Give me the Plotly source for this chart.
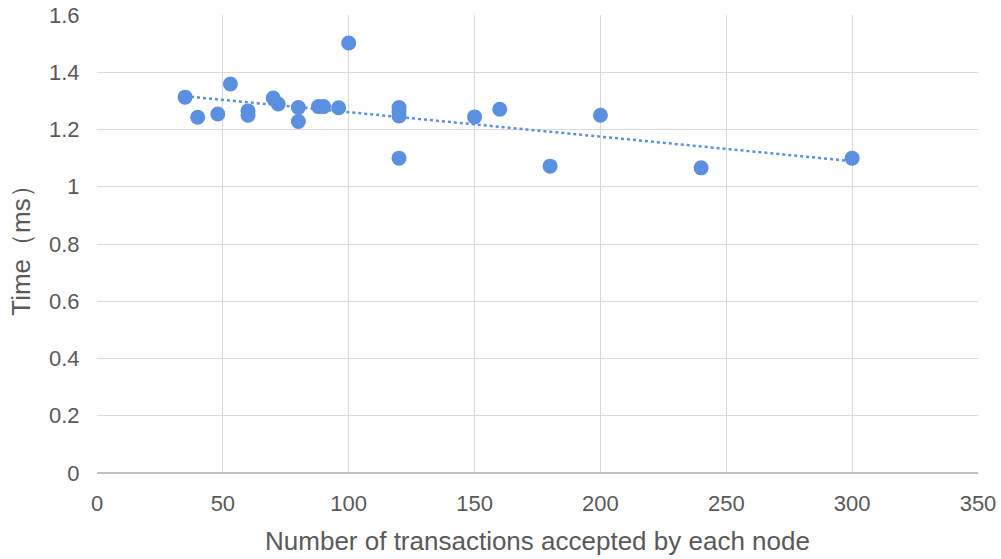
import numpy as np
import plotly.graph_objects as go

tx = [35, 40, 48, 53, 60, 60, 70, 72, 80, 80, 88, 90, 96, 100, 120, 120, 120, 120, 150, 160, 180, 200, 240, 300]
time_ms = [1.313, 1.243, 1.254, 1.359, 1.265, 1.250, 1.310, 1.289, 1.277, 1.228, 1.280, 1.280, 1.276, 1.502,
           1.277, 1.262, 1.247, 1.100, 1.244, 1.271, 1.072, 1.250, 1.066, 1.100]

x_title = "Number of transactions accepted by each node"
y_title = "Time（ms）"

slope, intercept = np.polyfit(tx, time_ms, 1)
trend_x = [min(tx), max(tx)]
trend_y = [slope * v + intercept for v in trend_x]

color = "#5b8fe0"
fig = go.Figure()
fig.add_trace(go.Scatter(x=trend_x, y=trend_y, mode="lines",
                         line=dict(color=color, width=2.5, dash="dot"), hoverinfo="skip"))
fig.add_trace(go.Scatter(x=tx, y=time_ms, mode="markers",
                         marker=dict(color=color, size=15, line=dict(width=0))))

font = "Liberation Sans, Arial, sans-serif"
fig.update_layout(
    width=1001, height=559, showlegend=False,
    paper_bgcolor="white", plot_bgcolor="white",
    margin=dict(l=97, r=23, t=15, b=86),
    font=dict(family=font, color="#595959", size=22),
    xaxis=dict(range=[0, 350], dtick=50, showgrid=True, gridcolor="#d9d9d9", gridwidth=1,
               zeroline=False, showline=False, automargin=False, ticklabeloverflow="allow",
               ticks="outside", ticklen=11, tickcolor="rgba(0,0,0,0)",
               tickfont=dict(size=22, color="#595959"),
               title=dict(text=x_title, font=dict(size=26, color="#595959"), standoff=16)),
    yaxis=dict(range=[0, 1.6], dtick=0.2, showgrid=True, gridcolor="#d9d9d9", gridwidth=1,
               zeroline=True, zerolinecolor="#bfbfbf", zerolinewidth=1.5, showline=False,
               automargin=False, ticklabeloverflow="allow",
               ticks="outside", ticklen=12, tickcolor="rgba(0,0,0,0)",
               tickfont=dict(size=22, color="#595959"),
               tickformat="~g",
               title=dict(text=y_title, font=dict(size=26, color="#595959"), standoff=10)),
)
fig.write_html("out.html", config={"displayModeBar": False},
               post_script="document.body.style.margin='0';")
